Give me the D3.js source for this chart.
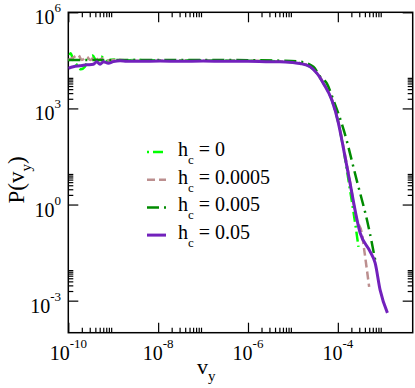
<!DOCTYPE html>
<html>
<head>
<meta charset="utf-8">
<script src="https://cdn.jsdelivr.net/npm/d3@7"></script>
<style>
  body { margin: 0; background: #fff; }
</style>
</head>
<body>
<div id="chart"></div>
<script>
// values
const legendLabels = ["0", "0.0005", "0.005", "0.05"];
const xTickExps = [-10, -8, -6, -4];
const yTickExps = [6, 3, 0, -3];

// h_c = 0
const v0 = [1.0e-10, 1.12e-10, 1.29e-10, 1.58e-10, 1.91e-10, 2.34e-10, 2.82e-10, 3.47e-10, 4.27e-10, 5.37e-10, 7.08e-10,
  1.0e-9, 1.58e-9, 3.16e-9, 1e-8, 1e-7, 1e-6, 3.16e-6, 1.0e-5, 1.45e-5, 2.42e-5, 3.40e-5, 4.78e-5, 7.35e-5, 1.03e-4, 1.23e-4,
  1.79e-4, 2.43e-4, 2.88e-4];
const p0 = [3.02e4, 5.25e4, 3.31e4, 2.24e4, 1.66e4, 2.0e4, 3.55e4, 4.47e4, 3.02e4, 4.17e4, 3.02e4,
  3.39e4, 3.09e4, 3.24e4, 3.16e4, 3.16e4, 3.09e4, 3.02e4, 2.75e4, 2.57e4, 2.0e4, 1.26e4, 6.03e3, 1.82e3, 347, 102,
  4.17, 0.263, 0.0479];

// h_c = 0.0005
const v1 = [1.0e-10, 1.26e-10, 1.66e-10, 2.0e-10, 2.57e-10, 3.09e-10, 3.89e-10, 4.68e-10, 5.75e-10, 7.94e-10,
  1.26e-9, 2.51e-9, 1e-8, 1e-7, 1e-6, 3.16e-6, 1.0e-5, 1.45e-5, 2.42e-5, 3.40e-5, 4.78e-5, 7.35e-5, 1.03e-4, 1.23e-4,
  1.81e-4, 2.65e-4, 3.43e-4, 3.87e-4, 4.98e-4];
const p1 = [3.31e4, 3.80e4, 4.68e4, 3.24e4, 4.07e4, 3.24e4, 4.07e4, 3.24e4, 3.63e4, 3.16e4,
  3.31e4, 3.09e4, 3.09e4, 3.09e4, 3.09e4, 3.02e4, 2.75e4, 2.57e4, 2.04e4, 1.32e4, 6.31e3, 1.95e3, 372, 112,
  6.61, 0.331, 0.126, 0.038, 2.69e-3];

// h_c = 0.005
const v2 = [1.0e-10, 1e-9, 1e-8, 1e-7, 1e-6, 5.18e-6, 1.45e-5, 2.86e-5, 4.04e-5, 5.69e-5, 7.98e-5, 1.35e-4,
  2.62e-4, 4.81e-4, 6.78e-4];
const p2 = [3.24e4, 3.24e4, 3.24e4, 3.24e4, 3.2e4, 3.09e4, 2.88e4, 2.0e4, 9.77e3, 6.03e3, 1.82e3, 214,
  5.89, 0.204, 0.0186];

// h_c = 0.05
const v3 = [1.0e-10, 1.29e-10, 1.82e-10, 2.57e-10, 3.61e-10, 4.30e-10, 5.08e-10, 6.03e-10, 7.78e-10, 1.0e-9, 1.42e-9,
  2.0e-9, 3.95e-9, 1.1e-8, 3.16e-8, 1e-7, 3.16e-7, 1e-6, 3.16e-6, 5.1e-6, 1.0e-5, 1.45e-5, 2.42e-5, 3.40e-5, 4.78e-5,
  7.35e-5, 1.03e-4, 1.23e-4, 1.81e-4, 3.14e-4, 5.24e-4, 6.76e-4, 8.75e-4, 1.27e-3];
const p3 = [1.78e4, 2.0e4, 2.14e4, 2.29e4, 2.40e4, 2.88e4, 2.40e4, 2.88e4, 2.57e4, 2.88e4, 3.09e4,
  2.95e4, 2.95e4, 3.02e4, 2.95e4, 3.02e4, 2.95e4, 2.95e4, 2.88e4, 2.88e4, 2.69e4, 2.51e4, 2.0e4, 1.26e4, 6.03e3,
  1.82e3, 347, 102, 5.89, 0.129, 0.0339, 0.0151, 2.14e-3, 4.17e-4];

const series = [
  { v: v0, p: p0, color: "#00ff00", dash: "2,4,10,4", width: 2.5 },
  { v: v1, p: p1, color: "#bc8f8f", dash: "8,4", width: 2.5 },
  { v: v2, p: p2, color: "#008b00", dash: "12,5,2,5", width: 2.5 },
  { v: v3, p: p3, color: "#7221bc", dash: null, width: 3 }
];

const FONT = "'Liberation Serif', 'Times New Roman', Times, 'DejaVu Serif', serif";
const width = 415, height = 388;
const margin = { left: 68.3, right: 2.3, top: 12.3, bottom: 55.3 };

const svg = d3.select("#chart").append("svg")
  .attr("width", width)
  .attr("height", height)
  .attr("font-family", FONT);

const x = d3.scaleLog()
  .domain([1e-10, 4.64e-3])
  .range([margin.left, width - margin.right]);
const y = d3.scaleLog()
  .domain([1e-4, 1e6])
  .range([height - margin.bottom, margin.top]);

const x0 = x.range()[0], x1 = x.range()[1];
const y0 = y.range()[0], y1 = y.range()[1];

// minor ticks at k*10^major, k = 2..9
function minors(exps, scale) {
  let out = [];
  exps.forEach(e => {
    for (let k = 2; k <= 9; k++) {
      let val = k * Math.pow(10, e);
      let d = scale.domain();
      if (val > d[0] && val < d[1]) out.push(val);
    }
  });
  return out;
}
const xMajor = xTickExps.map(e => Math.pow(10, e));
const yMajor = yTickExps.map(e => Math.pow(10, e));
const xMinor = minors(xTickExps, x);
const yMinor = minors(yTickExps.concat([-6]), y);

function drawAxis(axis, tx, ty) {
  const g = svg.append("g").attr("transform", `translate(${tx},${ty})`).call(axis);
  g.select(".domain").remove();
  g.selectAll("line").attr("stroke", "#000").attr("stroke-width", 1.2);
  g.selectAll("text").remove();
}

drawAxis(d3.axisBottom(x).tickValues(xMajor).tickSize(-10), 0, y0);
drawAxis(d3.axisBottom(x).tickValues(xMinor).tickSize(-5), 0, y0);
drawAxis(d3.axisTop(x).tickValues(xMajor).tickSize(-10), 0, y1);
drawAxis(d3.axisTop(x).tickValues(xMinor).tickSize(-5), 0, y1);
drawAxis(d3.axisLeft(y).tickValues(yMajor).tickSize(-10), x0, 0);
drawAxis(d3.axisLeft(y).tickValues(yMinor).tickSize(-5), x0, 0);
drawAxis(d3.axisRight(y).tickValues(yMajor).tickSize(-10), x1, 0);
drawAxis(d3.axisRight(y).tickValues(yMinor).tickSize(-5), x1, 0);

// frame
svg.append("rect")
  .attr("x", x0).attr("y", y1)
  .attr("width", x1 - x0).attr("height", y0 - y1)
  .attr("fill", "none").attr("stroke", "#000").attr("stroke-width", 1.5);

// tick labels
xTickExps.forEach(e => {
  const t = svg.append("text")
    .attr("x", x(Math.pow(10, e)))
    .attr("y", 360)
    .attr("text-anchor", "middle")
    .attr("font-family", FONT)
    .attr("font-size", 20);
  t.append("tspan").text("10");
  t.append("tspan").attr("dy", -12).attr("font-size", 13).text(e);
});
yTickExps.forEach(e => {
  const t = svg.append("text")
    .attr("x", 61)
    .attr("y", y(Math.pow(10, e)) + 12)
    .attr("text-anchor", "end")
    .attr("font-family", FONT)
    .attr("font-size", 20);
  t.append("tspan").text("10");
  t.append("tspan").attr("dy", -12).attr("font-size", 13).text(e);
});

// axis titles
const xl = svg.append("text")
  .attr("x", 197).attr("y", 374)
  .attr("font-family", FONT)
  .attr("font-size", 22);
xl.append("tspan").text("v");
xl.append("tspan").attr("dy", 7).attr("font-size", 15).text("y");

const yl = svg.append("text")
  .attr("transform", "translate(23.5,180) rotate(-90)")
  .attr("text-anchor", "middle")
  .attr("font-family", FONT)
  .attr("font-size", 23);
yl.append("tspan").text("P(v");
yl.append("tspan").attr("dy", 7).attr("font-size", 15).text("y");
yl.append("tspan").attr("dy", -7).text(")");

// curves
svg.append("clipPath").attr("id", "clip")
  .append("rect").attr("x", x0).attr("y", y1).attr("width", x1 - x0).attr("height", y0 - y1);

const line = d3.line()
  .x(d => x(d[0]))
  .y(d => y(d[1]))
  .curve(d3.curveMonotoneX);

const plot = svg.append("g").attr("clip-path", "url(#clip)");
series.forEach(s => {
  plot.append("path")
    .datum(s.v.map((v, i) => [v, s.p[i]]))
    .attr("d", line)
    .attr("fill", "none")
    .attr("stroke", s.color)
    .attr("stroke-width", s.width)
    .attr("stroke-dasharray", s.dash);
});

// legend
const legend = svg.append("g");
series.forEach((s, i) => {
  const ly = 152 + i * 27.7;
  legend.append("line")
    .attr("x1", 147).attr("x2", 166)
    .attr("y1", ly).attr("y2", ly)
    .attr("stroke", s.color)
    .attr("stroke-width", s.width)
    .attr("stroke-dasharray", s.dash);
  const t = legend.append("text")
    .attr("x", 178).attr("y", ly + 4)
    .attr("font-family", FONT)
    .attr("font-size", 20);
  t.append("tspan").text("h");
  t.append("tspan").attr("dy", 8).attr("font-size", 13).text("c");
  t.append("tspan").attr("dy", -8).text(" = " + legendLabels[i]);
});
</script>
</body>
</html>
